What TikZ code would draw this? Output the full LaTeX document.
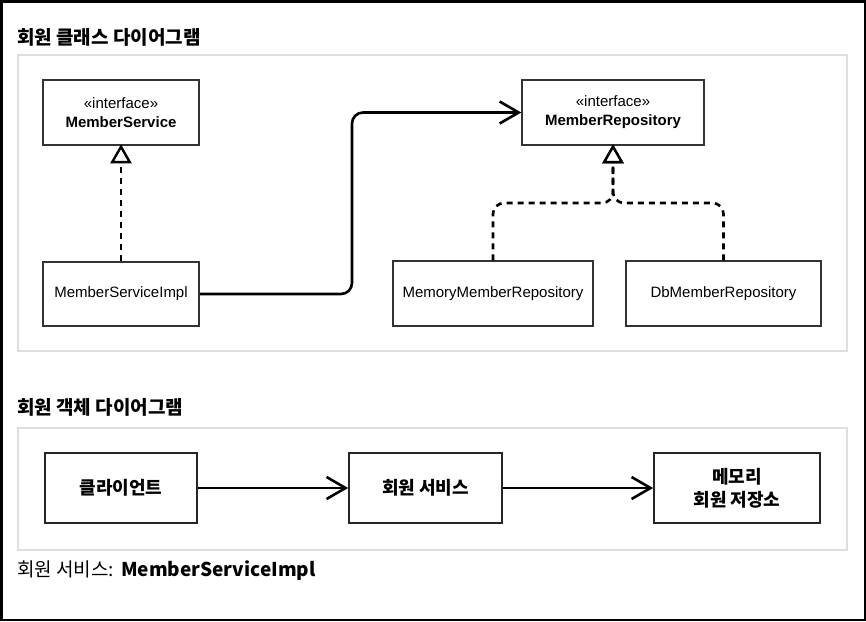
\documentclass[tikz,border=0pt]{standalone}
\usepackage{fontspec}
\setmainfont{Liberation Sans}
\newfontfamily\kr{Noto Sans CJK KR}
\usetikzlibrary{arrows.meta}
\tikzset{
  uml/.style={draw=black!80, line width=1.5pt, fill=white, inner sep=0pt, font=\fontsize{15}{19}\selectfont, align=center},
  obj/.style={draw=black!85, line width=1.7pt, fill=white, inner sep=0pt, font=\kr\bfseries\fontsize{18}{23}\selectfont, align=center},
  panel/.style={draw=black!13, line width=2pt},
  title/.style={anchor=west, inner sep=0pt, font=\kr\bfseries\fontsize{19}{22}\selectfont},
  conn/.style={line width=2.6pt, rounded corners=11pt},
  dashconn/.style={conn, dash pattern=on 6pt off 5pt},
  realize/.style={-{Triangle[open, length=19pt, width=21pt, line width=2.4pt, fill=white]}},
  assoc/.style={-{Straight Barb[length=19pt, width=22pt, line width=2.6pt]}},
}
\begin{document}
\begin{tikzpicture}[x=1pt, y=-1pt]
\useasboundingbox (0,0) rectangle (866,621);
\draw[line width=2.5pt] (1.25,1.25) rectangle (864.75,619.75);
% panels
\draw[panel] (18,55) rectangle (847,351);
\draw[panel] (18,428) rectangle (847,550);
\node[title] (t1) at (17,37) {회원 클래스 다이어그램};
\node[title] (t2) at (17,407) {회원 객체 다이어그램};
% class diagram
\node[uml, minimum width=156pt, minimum height=65pt] (ms) at (121,112.5) {«interface»\\\textbf{MemberService}};
\node[uml, minimum width=156pt, minimum height=64pt] (msi) at (121,294) {MemberServiceImpl};
\node[uml, minimum width=182pt, minimum height=65pt] (mr) at (613,112.5) {«interface»\\\textbf{MemberRepository}};
\node[uml, minimum width=200pt, minimum height=65pt] (mmr) at (493,293.5) {MemoryMemberRepository};
\node[uml, minimum width=195pt, minimum height=65pt] (dmr) at (723.5,293.5) {DbMemberRepository};
\coordinate (jm) at (493,203);
\coordinate (jd) at (723.5,203);
\coordinate (jc) at (613,203);
\coordinate (b1) at (352,294);
\coordinate (b2) at (352,112.5);
\draw[dashconn, realize] (msi.north) -- ([yshift=1.5pt]ms.south);
\draw[dashconn, realize] (mmr.north) -- (jm) -- (jc) -- ([yshift=1.5pt]mr.south);
\draw[dashconn, realize] (dmr.north) -- (jd) -- (jc) -- ([yshift=1.5pt]mr.south);
\draw[conn, assoc] (msi.east) -- (b1) -- (b2) -- (mr.west);
% object diagram
\node[obj, minimum width=152pt, minimum height=70pt] (cl) at (121,488) {클라이언트};
\node[obj, minimum width=153pt, minimum height=70pt] (sv) at (425.5,488) {회원 서비스};
\node[obj, minimum width=166pt, minimum height=70pt] (st) at (737,488) {메모리\\회원 저장소};
\draw[conn, assoc] (cl) -- (sv);
\draw[conn, assoc] (sv) -- (st);
\node[anchor=west, inner sep=0pt, font=\fontsize{19}{22}\selectfont] (ft) at (17,571) {{\kr 회원 서비스:} {\kr\bfseries MemberServiceImpl}};
\end{tikzpicture}
\end{document}
